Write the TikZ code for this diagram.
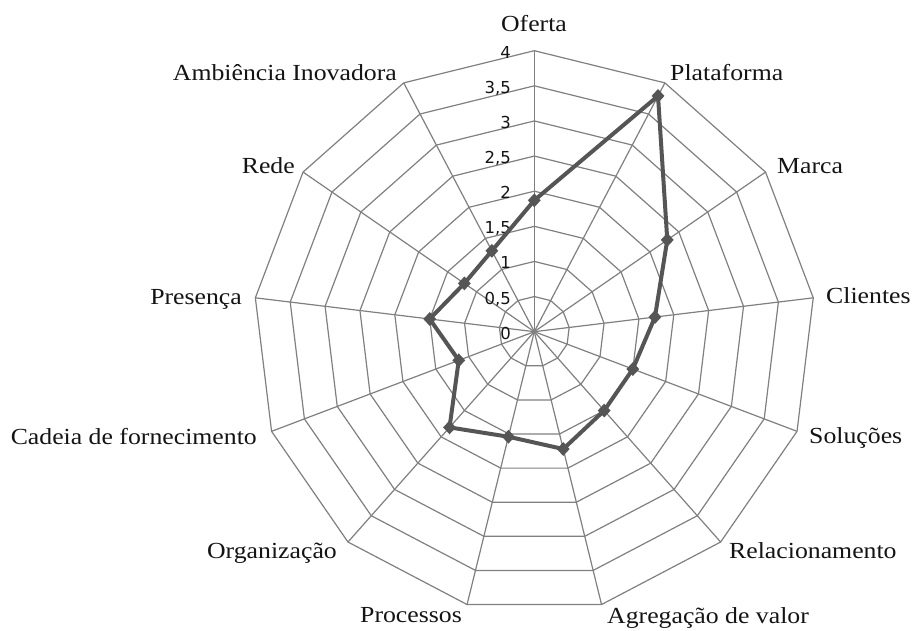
\documentclass[tikz,border=0pt]{standalone}
\usepackage{fontspec}
\setmainfont[FakeStretch=1.12]{Liberation Serif}
\newfontfamily\tickfont{DejaVu Sans}
\usetikzlibrary{shapes.geometric}
\definecolor{gridgray}{RGB}{128,128,128}
\definecolor{datagray}{RGB}{85,85,85}
\definecolor{textblack}{RGB}{20,20,20}
\begin{document}
\begin{tikzpicture}[x=1pt,y=1pt,
  gridline/.style={draw=gridgray, line width=1.2pt, line join=miter},
  dataline/.style={draw=datagray, line width=4pt, line join=round},
  marker/.style={diamond, fill=datagray, draw=none, inner sep=0pt, minimum width=13pt, minimum height=14pt},
  axislabel/.style={inner sep=0pt, text=textblack, font=\fontsize{23}{27}\selectfont},
  ticklabel/.style={inner sep=0pt, text=textblack, font=\tickfont\fontsize{16.5}{19}\selectfont, anchor=base east}]
\useasboundingbox (0,0) rectangle (912,631);
\fill[white] (0,0) rectangle (912,631);
\coordinate (C) at (534.3,299.3);
\begin{scope}[shift={(C)}]
  % rings
  \foreach \k in {1,...,8} {
    \pgfmathsetmacro{\r}{\k*35.125}
    \draw[gridline] (90:\r) \foreach \i in {1,...,12} { -- ({90-\i*360/13}:\r) } -- cycle;
  }
  % spokes
  \foreach \i in {0,...,12} {
    \draw[gridline] (0,0) -- ({90-\i*360/13}:281);
  }
  % tick labels
  \foreach \v/\t in {0/0, 0.5/{0,5}, 1/1, 1.5/{1,5}, 2/2, 2.5/{2,5}, 3/3, 3.5/{3,5}, 4/4} {
    \node[ticklabel] (t\v) at (-23.3,{\v*70.25-7.5}) {\t};
  }
  % data
  \foreach \v [count=\i from 0] in {1.87,3.79,2.3,1.73,1.5,1.5,1.72,1.54,1.82,1.15,1.5,1.21,1.3} {
    \coordinate (d\i) at ({90-\i*360/13}:{\v*70.25});
  }
  \draw[dataline] (d0) -- (d1) -- (d2) -- (d3) -- (d4) -- (d5) -- (d6) -- (d7) -- (d8) -- (d9) -- (d10) -- (d11) -- (d12) -- cycle;
  \foreach \i in {0,...,12} {
    \node[marker] (mk\i) at (d\i) {};
  }
\end{scope}
% axis labels
\node[axislabel, anchor=base] (lOferta) at (534,599) {Oferta};
\node[axislabel, anchor=base west] (lPlataforma) at (670,550) {Plataforma};
\node[axislabel, anchor=base west] (lMarca) at (777,457) {Marca};
\node[axislabel, anchor=base west] (lClientes) at (826,327) {Clientes};
\node[axislabel, anchor=base west] (lSolucoes) at (809,187) {Soluções};
\node[axislabel, anchor=base west] (lRelac) at (729,72) {Relacionamento};
\node[axislabel, anchor=base west] (lAgreg) at (607,7.7) {Agregação de valor};
\node[axislabel, anchor=base east] (lProc) at (462,8) {Processos};
\node[axislabel, anchor=base east] (lOrg) at (337,72) {Organização};
\node[axislabel, anchor=base east] (lCadeia) at (257,186) {Cadeia de fornecimento};
\node[axislabel, anchor=base east] (lPresenca) at (242,326) {Presença};
\node[axislabel, anchor=base east] (lRede) at (295,457) {Rede};
\node[axislabel, anchor=base east] (lAmb) at (397,550.3) {Ambiência Inovadora};
\end{tikzpicture}
\end{document}
